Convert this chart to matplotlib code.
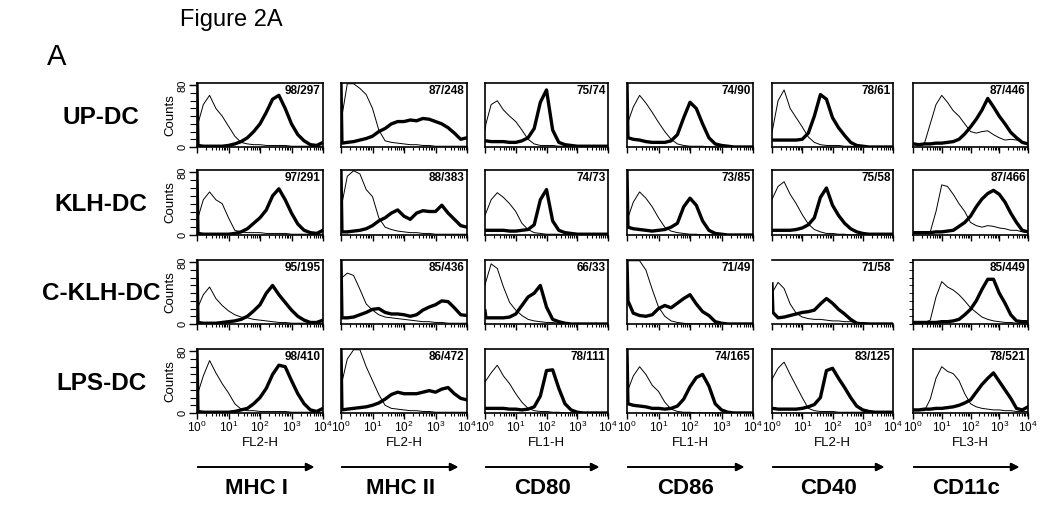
"""Figure 2A: flow cytometry histograms of DC surface markers."""
import numpy as np
import matplotlib
matplotlib.use("Agg")
import matplotlib.pyplot as plt
from matplotlib.ticker import MultipleLocator, LogLocator, NullFormatter

plt.rcParams["font.family"] = ["Liberation Sans", "DejaVu Sans"]

# fluorescence position in decades (10^0 .. 10^4)
X_DEC = [0, 0.03, 0.2, 0.4, 0.6, 0.8, 1.0, 1.2, 1.4, 1.6, 1.8,
         2.0, 2.2, 2.4, 2.6, 2.8, 3.0, 3.2, 3.4, 3.6, 3.8, 4.0]

ROWS = ["UP-DC", "KLH-DC", "C-KLH-DC", "LPS-DC"]
MARKERS = ["MHC I", "MHC II", "CD80", "CD86", "CD40", "CD11c"]
CHANNELS = ["FL2-H", "FL2-H", "FL1-H", "FL1-H", "FL2-H", "FL3-H"]
STATS = [
    ["98/297", "87/248", "75/74", "74/90", "78/61", "87/446"],
    ["97/291", "88/383", "74/73", "73/85", "75/58", "87/466"],
    ["95/195", "85/436", "66/33", "71/49", "71/58", "85/449"],
    ["98/410", "86/472", "78/111", "74/165", "83/125", "78/521"],
]

# isotype control (thin line), one list per marker
UP_ISO = [
    [28, 30, 55, 67, 50, 40, 27, 14, 6, 4, 3, 3, 2, 2, 2, 2, 1, 1, 1, 1, 1, 1],
    [20, 40, 82, 82, 76, 68, 50, 22, 8, 6, 5, 4, 3, 3, 2, 2, 1, 1, 1, 1, 1, 1],
    [22, 30, 55, 60, 48, 40, 33, 22, 10, 4, 2, 2, 2, 1, 1, 0, 0, 0, 0, 0, 0, 0],
    [28, 32, 52, 67, 57, 45, 32, 20, 10, 4, 2, 1, 1, 1, 0, 0, 0, 0, 0, 0, 0, 0],
    [20, 25, 60, 74, 50, 38, 26, 13, 6, 3, 2, 2, 2, 1, 1, 0, 0, 0, 0, 0, 0, 0],
    [3, 3, 3, 5, 30, 55, 67, 58, 47, 40, 30, 20, 18, 20, 21, 16, 12, 9, 10, 9, 7, 3],
]
KLH_ISO = [
    [18, 22, 45, 55, 45, 40, 22, 6, 4, 3, 3, 3, 2, 2, 2, 2, 1, 1, 1, 1, 1, 1],
    [20, 40, 75, 82, 78, 58, 49, 22, 10, 7, 5, 4, 3, 3, 2, 2, 1, 1, 1, 1, 1, 1],
    [25, 28, 45, 54, 48, 40, 30, 15, 7, 3, 2, 1, 1, 1, 0, 0, 0, 0, 0, 0, 0, 0],
    [18, 22, 42, 55, 47, 36, 22, 10, 5, 3, 2, 1, 1, 0, 0, 0, 0, 0, 0, 0, 0, 0],
    [45, 48, 62, 68, 52, 40, 26, 14, 7, 4, 2, 2, 1, 1, 0, 0, 0, 0, 0, 0, 0, 0],
    [3, 3, 3, 3, 4, 30, 64, 62, 52, 40, 30, 16, 12, 10, 12, 11, 9, 8, 6, 6, 4, 3],
]
CKLH_ISO = [
    [20, 22, 38, 48, 33, 24, 17, 12, 9, 8, 6, 5, 4, 3, 2, 2, 1, 1, 1, 1, 1, 1],
    [50, 60, 66, 63, 45, 26, 18, 12, 9, 8, 7, 6, 5, 4, 3, 3, 2, 2, 1, 1, 1, 1],
    [50, 55, 78, 72, 48, 28, 18, 11, 6, 4, 3, 2, 2, 1, 0, 0, 0, 0, 0, 0, 0, 0],
    [82, 82, 82, 82, 70, 45, 22, 10, 4, 2, 1, 0, 0, 0, 0, 0, 0, 0, 0, 0, 0, 0],
    [39, 42, 54, 46, 26, 14, 9, 7, 6, 6, 5, 4, 4, 3, 3, 2, 2, 1, 0, 0, 0, 0],
    [2, 2, 2, 2, 5, 35, 55, 48, 44, 38, 30, 21, 15, 9, 6, 4, 3, 2, 2, 1, 1, 1],
]
LPS_ISO = [
    [23, 26, 48, 68, 52, 38, 26, 12, 5, 3, 3, 2, 2, 2, 2, 2, 1, 1, 1, 1, 1, 1],
    [30, 40, 70, 82, 82, 60, 42, 24, 10, 6, 5, 4, 3, 3, 2, 2, 1, 1, 1, 1, 1, 1],
    [40, 42, 52, 62, 48, 38, 25, 14, 6, 3, 2, 2, 1, 1, 0, 0, 0, 0, 0, 0, 0, 0],
    [26, 30, 48, 60, 50, 36, 28, 14, 5, 2, 1, 1, 0, 0, 0, 0, 0, 0, 0, 0, 0, 0],
    [42, 46, 58, 66, 50, 35, 20, 6, 3, 2, 2, 2, 1, 1, 1, 1, 1, 0, 0, 0, 0, 0],
    [3, 3, 3, 3, 18, 45, 60, 54, 51, 42, 25, 12, 8, 6, 5, 4, 4, 3, 3, 2, 2, 2],
]

# specific staining (thick line)
UP_STAIN = [
    [82, 2, 1, 1, 1, 1, 2, 4, 7, 12, 20, 30, 45, 62, 67, 50, 30, 16, 8, 3, 2, 6],
    [82, 5, 6, 7, 9, 11, 14, 20, 24, 30, 33, 33, 35, 34, 37, 36, 33, 30, 25, 18, 10, 12],
    [8, 8, 7, 7, 7, 6, 6, 8, 12, 24, 58, 74, 22, 6, 3, 2, 1, 1, 1, 1, 1, 1],
    [82, 12, 10, 9, 7, 6, 6, 6, 8, 16, 38, 58, 50, 30, 12, 4, 2, 1, 0, 0, 0, 0],
    [9, 9, 9, 9, 9, 9, 10, 18, 40, 68, 62, 38, 25, 15, 6, 2, 1, 0, 0, 0, 0, 0],
    [4, 4, 3, 4, 4, 5, 5, 6, 7, 10, 17, 26, 36, 48, 63, 52, 40, 30, 19, 12, 6, 4],
]
KLH_STAIN = [
    [82, 2, 1, 1, 1, 1, 1, 2, 4, 8, 15, 22, 32, 50, 59, 45, 28, 14, 6, 3, 2, 6],
    [82, 4, 4, 5, 6, 8, 12, 18, 22, 28, 32, 24, 20, 28, 31, 30, 30, 38, 28, 20, 12, 10],
    [6, 6, 6, 6, 6, 5, 5, 6, 7, 13, 45, 58, 18, 6, 3, 2, 1, 1, 1, 1, 1, 1],
    [82, 10, 8, 7, 6, 5, 6, 7, 10, 15, 36, 47, 38, 18, 6, 2, 1, 0, 0, 0, 0, 0],
    [6, 6, 6, 6, 6, 7, 9, 13, 22, 48, 60, 38, 25, 15, 8, 4, 2, 1, 1, 1, 1, 1],
    [3, 3, 3, 3, 3, 4, 4, 5, 6, 11, 16, 24, 36, 46, 53, 57, 52, 42, 28, 16, 6, 4],
]
CKLH_STAIN = [
    [82, 2, 1, 1, 1, 2, 3, 4, 6, 10, 17, 25, 40, 50, 38, 28, 18, 10, 5, 2, 2, 5],
    [82, 8, 8, 9, 12, 15, 19, 20, 15, 13, 13, 12, 10, 12, 18, 22, 25, 30, 29, 21, 12, 11],
    [17, 8, 8, 8, 8, 9, 13, 24, 35, 40, 50, 22, 6, 3, 1, 0, 0, 0, 0, 0, 0, 0],
    [82, 30, 14, 11, 10, 12, 20, 24, 21, 27, 33, 38, 26, 16, 11, 3, 1, 0, 0, 0, 0, 0],
    [52, 15, 8, 9, 11, 13, 15, 16, 18, 26, 33, 27, 19, 13, 6, 1, 0, 0, 0, 0, 0, 0],
    [2, 2, 2, 2, 2, 2, 3, 3, 4, 6, 12, 19, 30, 45, 58, 58, 40, 27, 12, 4, 3, 3],
]
LPS_STAIN = [
    [82, 2, 1, 1, 1, 1, 1, 2, 4, 6, 12, 20, 32, 50, 62, 60, 42, 25, 12, 4, 2, 6],
    [82, 4, 5, 6, 7, 8, 10, 13, 18, 24, 27, 25, 25, 25, 27, 29, 27, 31, 33, 25, 19, 17],
    [6, 6, 6, 6, 6, 5, 5, 4, 5, 8, 22, 55, 56, 32, 12, 4, 1, 0, 0, 0, 0, 0],
    [82, 12, 10, 9, 8, 6, 6, 5, 6, 9, 18, 34, 46, 50, 35, 12, 4, 1, 0, 0, 0, 0],
    [6, 6, 5, 5, 5, 5, 6, 8, 11, 20, 55, 58, 45, 33, 20, 9, 4, 2, 1, 1, 1, 1],
    [4, 4, 4, 5, 5, 6, 6, 7, 8, 10, 13, 17, 27, 37, 45, 52, 41, 30, 19, 6, 4, 8],
]

ISO = [UP_ISO, KLH_ISO, CKLH_ISO, LPS_ISO]
STAIN = [UP_STAIN, KLH_STAIN, CKLH_STAIN, LPS_STAIN]

# panel placement in pixels
W, H = 1050, 508
COL_X = [(197, 323), (341, 467), (485, 608), (627, 753), (772, 893), (913, 1028)]
ROW_Y = [(83, 147), (170, 235), (260, 324), (349, 413)]
OPEN_FRAME = {(2, 4)}
LEFT_TICKS = {(2, 5)}


def draw_panel(fig, i, j):
    """Draw one histogram overlay."""
    top, bot = ROW_Y[i]
    left, right = COL_X[j]
    ax = fig.add_axes([left / W, 1 - bot / H, (right - left) / W, (bot - top) / H])
    x = 10 ** np.array(X_DEC)
    ax.plot(x, ISO[i][j], color="black", lw=0.7)
    ax.plot(x, STAIN[i][j], color="black", lw=2.4)
    ax.set_xscale("log")
    ax.set_xlim(1, 1e4)
    ax.set_ylim(0, 83)
    ax.set_xticks([1, 10, 100, 1000, 10000])
    ax.xaxis.set_minor_locator(LogLocator(base=10, subs=range(2, 10), numticks=20))
    ax.xaxis.set_minor_formatter(NullFormatter())
    for sp in ax.spines.values():
        sp.set_linewidth(1.2)
    if (i, j) in OPEN_FRAME:
        ax.spines["left"].set_visible(False)
        ax.spines["right"].set_visible(False)

    ax.tick_params(axis="x", which="major", direction="out", length=4, width=1,
                   labelsize=8.5, pad=1)
    ax.tick_params(axis="x", which="minor", direction="out", length=2.5, width=0.8)
    if i < 3:
        ax.tick_params(axis="x", which="both", labelbottom=False)
    else:
        ax.set_xlabel(CHANNELS[j], fontsize=9.5, labelpad=1)

    if j == 0:
        ax.set_yticks([0, 80])
        ax.set_yticklabels(["0", "80"], rotation=90, va="center", fontsize=8)
        ax.yaxis.set_minor_locator(MultipleLocator(10))
        ax.tick_params(axis="y", which="major", direction="out", length=6, width=1, pad=1)
        ax.tick_params(axis="y", which="minor", direction="out", length=5, width=0.8)
        ax.set_ylabel("Counts", fontsize=9.5, labelpad=1)
    elif (i, j) in LEFT_TICKS:
        ax.set_yticks([0, 80])
        ax.yaxis.set_minor_locator(MultipleLocator(10))
        ax.tick_params(axis="y", which="both", direction="out", length=3, labelleft=False)
    else:
        ax.set_yticks([])

    ax.text(0.98, 0.97, STATS[i][j], transform=ax.transAxes, ha="right", va="top",
            fontsize=8.5, fontweight="bold")


def main():
    fig = plt.figure(figsize=(W / 100, H / 100), dpi=100)
    for i in range(len(ROWS)):
        for j in range(len(MARKERS)):
            draw_panel(fig, i, j)

    fig.text(180 / W, 1 - 20 / H, "Figure 2A", fontsize=17, va="center")
    fig.text(57 / W, 1 - 57 / H, "A", fontsize=21, ha="center", va="center")
    for i, name in enumerate(ROWS):
        yc = (ROW_Y[i][0] + ROW_Y[i][1]) / 2 + 2
        fig.text(101 / W, 1 - yc / H, name, fontsize=17.5, fontweight="bold",
                 ha="center", va="center")
    for j, name in enumerate(MARKERS):
        left, right = COL_X[j]
        fig.text((left + right) / 2 / W - 4 / W, 1 - 488 / H, name, fontsize=16,
                 fontweight="bold", ha="center", va="center")
        fig.add_artist(plt.annotate(
            "", xy=(right - 6, H - 467), xytext=(left - 2, H - 467),
            xycoords="figure pixels",
            arrowprops=dict(arrowstyle="-|>", color="black", lw=1.2, mutation_scale=12)))

    fig.savefig("out.png", dpi=100)
    plt.close(fig)


if __name__ == "__main__":
    main()
